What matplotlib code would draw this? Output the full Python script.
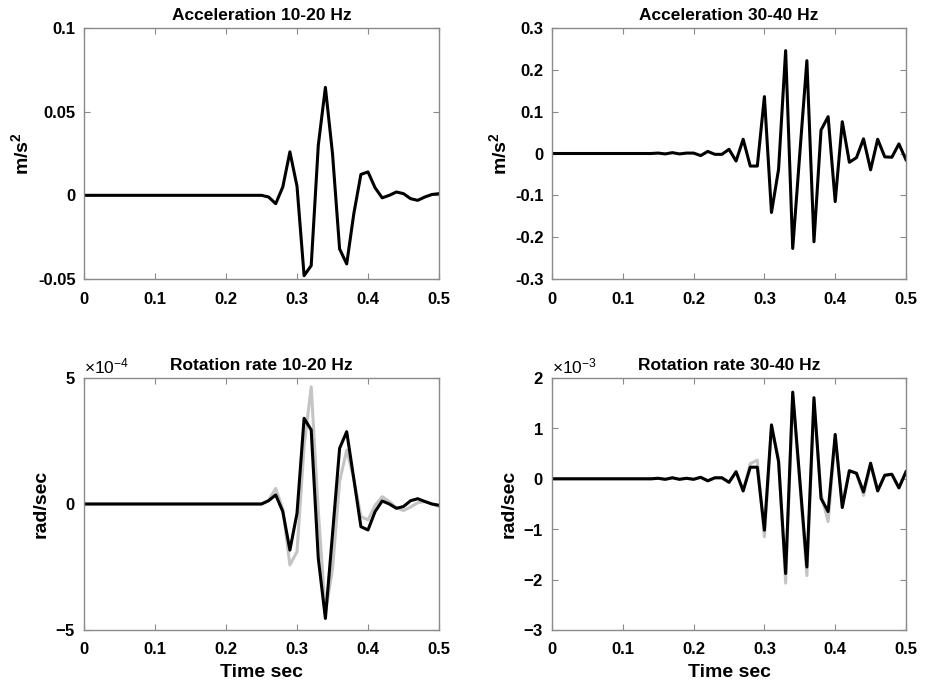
import numpy as np
import matplotlib
matplotlib.use("Agg")
import matplotlib.pyplot as plt
from matplotlib.ticker import ScalarFormatter

plt.rcParams['font.family'] = ['Liberation Sans', 'DejaVu Sans']
plt.rcParams['font.weight'] = 'bold'
plt.rcParams['axes.unicode_minus'] = False
plt.rcParams['mathtext.default'] = 'regular'

# time samples (s)
time = [0.00, 0.01, 0.02, 0.03, 0.04, 0.05, 0.06, 0.07, 0.08, 0.09,
        0.10, 0.11, 0.12, 0.13, 0.14, 0.15, 0.16, 0.17, 0.18, 0.19,
        0.20, 0.21, 0.22, 0.23, 0.24, 0.25, 0.26, 0.27, 0.28, 0.29,
        0.30, 0.31, 0.32, 0.33, 0.34, 0.35, 0.36, 0.37, 0.38, 0.39,
        0.40, 0.41, 0.42, 0.43, 0.44, 0.45, 0.46, 0.47, 0.48, 0.49, 0.50]

# Acceleration 10-20 Hz (m/s^2)
acc_10_20 = [0]*25 + [
    0.0, -0.001, -0.005, 0.005, 0.026, 0.0055, -0.048, -0.042, 0.030, 0.0645,
    0.025, -0.032, -0.041, -0.011, 0.0125, 0.014, 0.0045, -0.0015, 0.0, 0.002,
    0.001, -0.002, -0.003, -0.001, 0.0005, 0.001]

# Acceleration 30-40 Hz (m/s^2)
acc_30_40 = [0]*15 + [
    0.001, -0.001, 0.002, -0.001, 0.001,
    0.001, -0.005, 0.005, -0.002, -0.002, 0.010, -0.018, 0.034, -0.030, -0.030,
    0.136, -0.141, -0.038, 0.246, -0.227, 0.000, 0.222, -0.211, 0.056, 0.088,
    -0.115, 0.076, -0.021, -0.010, 0.035, -0.039, 0.034, -0.008, -0.009, 0.023,
    -0.015]

# Rotation rate 10-20 Hz (units of 1e-4 rad/sec): black and grey traces
rot_10_20_black = [0]*26 + [
    0.13, 0.36, -0.30, -1.83, -0.37, 3.40, 2.94, -2.16, -4.54, -1.20,
    2.21, 2.87, 1.00, -0.90, -1.03, -0.30, 0.12, 0.00, -0.17, -0.10,
    0.13, 0.21, 0.10, 0.00, -0.05]
rot_10_20_grey = [0]*26 + [
    0.15, 0.62, -0.20, -2.42, -1.89, 2.30, 4.65, -0.30, -4.30, -2.60,
    0.90, 2.14, 1.00, -0.50, -0.63, -0.05, 0.29, 0.10, -0.15, -0.26,
    -0.12, 0.05, 0.10, 0.00, -0.10]

# Rotation rate 30-40 Hz (units of 1e-3 rad/sec): black and grey traces
rot_30_40_black = [0]*15 + [
    0.01, -0.01, 0.02, -0.01, 0.01,
    -0.01, 0.03, -0.04, 0.02, 0.02, -0.07, 0.14, -0.24, 0.23, 0.23,
    -1.02, 1.07, 0.34, -1.88, 1.72, -0.02, -1.75, 1.61, -0.39, -0.65,
    0.88, -0.57, 0.16, 0.11, -0.26, 0.31, -0.24, 0.07, 0.09, -0.18,
    0.14]
rot_30_40_grey = [0]*15 + [
    0.01, -0.01, 0.02, -0.01, 0.01,
    -0.01, 0.03, -0.04, 0.02, 0.02, -0.07, 0.14, -0.24, 0.30, 0.37,
    -1.15, 1.00, 0.40, -2.07, 1.65, -0.10, -1.92, 1.50, -0.30, -0.85,
    0.80, -0.50, 0.16, 0.11, -0.33, 0.28, -0.24, 0.07, 0.09, -0.18,
    0.14]

titles = ["Acceleration 10-20 Hz", "Acceleration 30-40 Hz",
          "Rotation rate 10-20 Hz", "Rotation rate 30-40 Hz"]
x_ticks = [0, 0.1, 0.2, 0.3, 0.4, 0.5]
x_ticklabels = ["0", "0.1", "0.2", "0.3", "0.4", "0.5"]

W, H = 927, 685
fig = plt.figure(figsize=(W/100, H/100), dpi=100)

def box(x0, y0, x1, y1):
    return [x0/W, 1 - y1/H, (x1-x0)/W, (y1-y0)/H]

ax1 = fig.add_axes(box(84, 28, 439, 279))
ax2 = fig.add_axes(box(552, 28, 906, 279))
ax3 = fig.add_axes(box(84, 378, 439, 630))
ax4 = fig.add_axes(box(552, 378, 906, 630))

spine_col = '#8a8a8a'
t = np.array(time)
TICK_FS = 12
LABEL_FS = 14
TITLE_FS = 12.5

def style(ax, title):
    ax.set_xlim(0, 0.5)
    ax.set_xticks(x_ticks)
    ax.set_xticklabels(x_ticklabels)
    for s in ax.spines.values():
        s.set_color(spine_col)
        s.set_linewidth(1.0)
    ax.tick_params(direction='in', top=True, right=True, length=4,
                   width=0.8, color=spine_col, labelsize=TICK_FS,
                   labelcolor='black')
    ax.tick_params(axis='y', pad=6)
    ax.tick_params(axis='x', pad=9)
    for lab in ax.get_xticklabels() + ax.get_yticklabels():
        lab.set_fontweight('bold')
    ax.set_title(title, fontsize=TITLE_FS, fontweight='bold', pad=6)

# Panel 1
ax1.plot(t, acc_10_20, color='black', lw=2.2)
ax1.set_ylim(-0.05, 0.1)
ax1.set_yticks([-0.05, 0, 0.05, 0.1])
ax1.set_yticklabels(["-0.05", "0", "0.05", "0.1"])
ax1.set_ylabel("m/s$^{2}$", fontsize=LABEL_FS, fontweight='bold', labelpad=4)
style(ax1, titles[0])

# Panel 2
ax2.plot(t, acc_30_40, color='black', lw=2.2)
ax2.set_ylim(-0.3, 0.3)
ax2.set_yticks([-0.3, -0.2, -0.1, 0, 0.1, 0.2, 0.3])
ax2.set_yticklabels(["-0.3", "-0.2", "-0.1", "0", "0.1", "0.2", "0.3"])
ax2.set_ylabel("m/s$^{2}$", fontsize=LABEL_FS, fontweight='bold', labelpad=4)
style(ax2, titles[1])

# Panel 3
ax3.plot(t, np.array(rot_10_20_grey)*1e-4, color='#c4c4c4', lw=2.2)
ax3.plot(t, np.array(rot_10_20_black)*1e-4, color='black', lw=2.2)
ax3.set_ylim(-5e-4, 5e-4)
ax3.set_yticks([-5e-4, 0, 5e-4])
fmt3 = ScalarFormatter(useMathText=True)
fmt3.set_powerlimits((-4, -4))
ax3.yaxis.set_major_formatter(fmt3)
ax3.set_ylabel("rad/sec", fontsize=LABEL_FS, fontweight='bold', labelpad=4)
ax3.set_xlabel("Time sec", fontsize=LABEL_FS, fontweight='bold', labelpad=5)
style(ax3, titles[2])

# Panel 4
ax4.plot(t, np.array(rot_30_40_grey)*1e-3, color='#c4c4c4', lw=2.2)
ax4.plot(t, np.array(rot_30_40_black)*1e-3, color='black', lw=2.2)
ax4.set_ylim(-3e-3, 2e-3)
ax4.set_yticks([-3e-3, -2e-3, -1e-3, 0, 1e-3, 2e-3])
fmt4 = ScalarFormatter(useMathText=True)
fmt4.set_powerlimits((-3, -3))
ax4.yaxis.set_major_formatter(fmt4)
ax4.set_ylabel("rad/sec", fontsize=LABEL_FS, fontweight='bold', labelpad=4)
ax4.set_xlabel("Time sec", fontsize=LABEL_FS, fontweight='bold', labelpad=5)
style(ax4, titles[3])

for ax in (ax3, ax4):
    ax.yaxis.get_offset_text().set_fontsize(12.5)
    ax.yaxis.get_offset_text().set_fontweight('normal')

fig.savefig("out.png", dpi=100)
